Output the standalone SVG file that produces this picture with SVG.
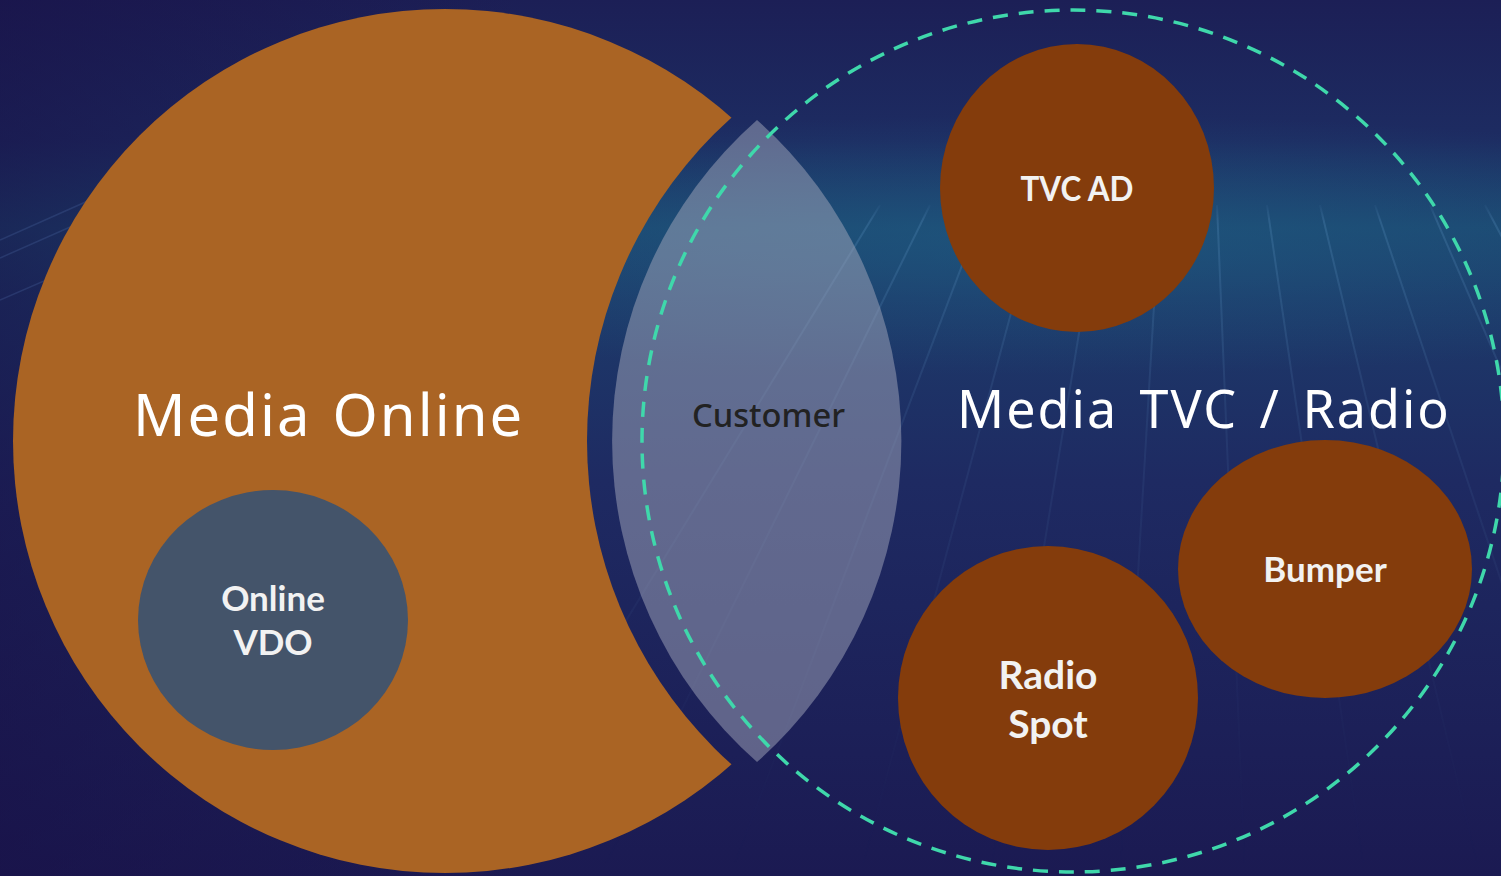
<svg xmlns="http://www.w3.org/2000/svg" width="1501" height="876" viewBox="0 0 1501 876">
  <defs>
    <style>
      .title { font-family: "Noto Sans", "Open Sans", sans-serif; font-weight: 400; fill: #ffffff; letter-spacing: 2px; }
      .label { font-family: Lato, "Noto Sans", sans-serif; font-weight: 700; fill: #f2f2f2; text-anchor: middle; }
      .spot { fill: #843c0c; }
      .grid line { stroke: #6aa0d0; stroke-width: 2; }
    </style>
    <linearGradient id="bgV" x1="0" y1="0" x2="0" y2="1">
      <stop offset="0" stop-color="#1c1f56"/>
      <stop offset="0.16" stop-color="#1d2c62"/>
      <stop offset="0.26" stop-color="#1c4670"/>
      <stop offset="0.34" stop-color="#1d3a6a"/>
      <stop offset="0.55" stop-color="#1e2a62"/>
      <stop offset="1" stop-color="#1b1a52"/>
    </linearGradient>
    <linearGradient id="bgH" x1="0" y1="0" x2="1" y2="0">
      <stop offset="0" stop-color="#180f45" stop-opacity="0.55"/>
      <stop offset="0.35" stop-color="#180f45" stop-opacity="0"/>
      <stop offset="1" stop-color="#180f45" stop-opacity="0"/>
    </linearGradient>
    <radialGradient id="glow" cx="0.5" cy="0.5" r="0.5">
      <stop offset="0" stop-color="#1f5e84" stop-opacity="0.55"/>
      <stop offset="1" stop-color="#1f5e84" stop-opacity="0"/>
    </radialGradient>
    <linearGradient id="gridFade" x1="0" y1="0" x2="0" y2="1">
      <stop offset="0" stop-color="#fff" stop-opacity="0"/>
      <stop offset="0.03" stop-color="#fff" stop-opacity="0.22"/>
      <stop offset="0.35" stop-color="#fff" stop-opacity="0.1"/>
      <stop offset="0.8" stop-color="#fff" stop-opacity="0.02"/>
      <stop offset="1" stop-color="#fff" stop-opacity="0"/>
    </linearGradient>
    <mask id="gridMask" maskUnits="userSpaceOnUse" x="0" y="0" width="1501" height="876">
      <rect x="0" y="200" width="1501" height="676" fill="url(#gridFade)"/>
    </mask>
    <mask id="notch" maskUnits="userSpaceOnUse" x="0" y="0" width="1501" height="876">
      <rect x="0" y="0" width="1501" height="876" fill="#fff"/>
      <circle cx="1021" cy="441" r="434" fill="#000"/>
    </mask>
  </defs>

  <!-- backdrop -->
  <rect width="1501" height="876" fill="url(#bgV)"/>
  <ellipse cx="1050" cy="245" rx="900" ry="130" fill="url(#glow)"/>
  <rect width="1501" height="876" fill="url(#bgH)"/>

  <!-- perspective floor grid -->
  <g class="grid" mask="url(#gridMask)">
    <line x1="1217" y1="205" x2="1245" y2="876"/>
    <line x1="1267" y1="205" x2="1365" y2="876"/>
    <line x1="1320" y1="205" x2="1480" y2="876"/>
    <line x1="1375" y1="205" x2="1600" y2="876"/>
    <line x1="1430" y1="205" x2="1720" y2="876"/>
    <line x1="1485" y1="205" x2="1840" y2="876"/>
    <line x1="1160" y1="205" x2="1120" y2="876"/>
    <line x1="1100" y1="205" x2="990" y2="876"/>
    <line x1="1040" y1="205" x2="860" y2="876"/>
    <line x1="985" y1="205" x2="730" y2="876"/>
    <line x1="930" y1="205" x2="600" y2="876"/>
    <line x1="880" y1="205" x2="470" y2="876"/>
  </g>
  <g stroke="#6a8fd0" stroke-width="1.5" opacity="0.18">
    <line x1="0" y1="258" x2="120" y2="205"/>
    <line x1="0" y1="240" x2="90" y2="200"/>
    <line x1="0" y1="300" x2="150" y2="235"/>
  </g>

  <!-- Media Online crescent -->
  <g id="media-online">
    <circle cx="445" cy="441" r="432" fill="#aa6424" mask="url(#notch)"/>
    <text class="title" x="133" y="436" font-size="58" word-spacing="4">Media Online</text>
  </g>

  <!-- Online VDO -->
  <g id="online-vdo">
    <ellipse cx="273" cy="620" rx="135" ry="130" fill="#44546a"/>
    <text class="label" x="273" y="611" font-size="35">Online</text>
    <text class="label" x="273" y="655" font-size="35">VDO</text>
  </g>

  <!-- Customer overlap lens -->
  <g id="customer">
    <path d="M757 120 A428 428 0 0 0 757 762 A429 429 0 0 0 757 120 Z" fill="#a3a8bc" fill-opacity="0.5"/>
    <text x="692" y="427" font-family="'Noto Sans', 'Open Sans', sans-serif" font-weight="500" font-size="32" fill="#222222" textLength="153" lengthAdjust="spacingAndGlyphs">Customer</text>
  </g>

  <!-- Media TVC / Radio boundary -->
  <g id="media-tvc-radio">
    <circle cx="1073" cy="441" r="431" fill="none" stroke="#3fd8ab" stroke-width="3.5" stroke-dasharray="15 11"/>
    <text class="title" x="957" y="428" font-size="52" word-spacing="6">Media TVC / Radio</text>
  </g>

  <g id="tvc-ad">
    <ellipse class="spot" cx="1077" cy="188" rx="137" ry="144"/>
    <text class="label" x="1077" y="201" font-size="34" textLength="113" lengthAdjust="spacingAndGlyphs">TVC AD</text>
  </g>

  <g id="bumper">
    <ellipse class="spot" cx="1325" cy="569" rx="147" ry="129"/>
    <text class="label" x="1325" y="582" font-size="35">Bumper</text>
  </g>

  <g id="radio-spot">
    <ellipse class="spot" cx="1048" cy="698" rx="150" ry="152"/>
    <text class="label" x="1048" y="689" font-size="39">Radio</text>
    <text class="label" x="1048" y="738" font-size="39">Spot</text>
  </g>
</svg>
